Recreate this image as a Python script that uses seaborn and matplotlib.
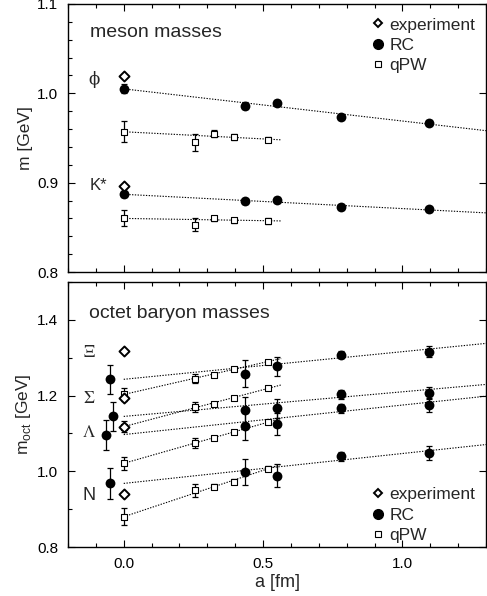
import numpy as np
import pandas as pd
import matplotlib
matplotlib.use("Agg")
import matplotlib.pyplot as plt
import seaborn as sns
from matplotlib.lines import Line2D
from matplotlib.ticker import MultipleLocator

sns.set_theme(style="ticks")
plt.rcParams['font.family'] = ['Liberation Sans', 'DejaVu Sans']
plt.rcParams['mathtext.fontset'] = 'custom'
plt.rcParams['mathtext.rm'] = 'Liberation Sans'

# lattice spacings (fm)
A_RC = [0.0, 0.436, 0.55, 0.78, 1.096]
A_QPW = [0.0, 0.255, 0.325, 0.396, 0.518]
A_FIT_RC_END = 1.3
A_FIT_QPW_END = 0.565

# ---- mesons ----
MESON_LABELS = ['\u03d5', 'K*']
MESON_EXP = [1.019, 0.896]
PHI_RC = [1.005, 0.986, 0.989, 0.974, 0.967]
PHI_RC_ERR = [0.005, 0.004, 0.003, 0.003, 0.003]
KST_RC = [0.887, 0.879, 0.881, 0.873, 0.870]
KST_RC_ERR = [0.003, 0.003, 0.003, 0.003, 0.003]
PHI_QPW = [0.957, 0.945, 0.955, 0.951, 0.948]
PHI_QPW_ERR = [0.012, 0.010, 0.004, 0.003, 0.003]
KST_QPW = [0.860, 0.853, 0.860, 0.858, 0.857]
KST_QPW_ERR = [0.009, 0.007, 0.003, 0.003, 0.003]
MESON_RC_FIT = [(1.005, -0.036), (0.887, -0.016)]      # (intercept, slope)
MESON_QPW_FIT = [(0.957, -0.016), (0.860, -0.005)]

# ---- octet baryons ----
BARYON_LABELS = [r'$\Xi$', r'$\Sigma$', r'$\Lambda$', 'N']
BARYON_EXP = [1.318, 1.193, 1.116, 0.939]
A_RC0_BARYON = [-0.051, -0.039, -0.062, -0.051]   # continuum points shifted for clarity
XI_RC = [1.243, 1.258, 1.277, 1.308, 1.316]
XI_RC_ERR = [0.038, 0.035, 0.025, 0.010, 0.015]
SIG_RC = [1.145, 1.162, 1.166, 1.204, 1.207]
SIG_RC_ERR = [0.038, 0.035, 0.025, 0.012, 0.015]
LAM_RC = [1.095, 1.119, 1.125, 1.166, 1.175]
LAM_RC_ERR = [0.040, 0.035, 0.030, 0.012, 0.018]
N_RC = [0.968, 0.998, 0.988, 1.040, 1.049]
N_RC_ERR = [0.042, 0.035, 0.030, 0.012, 0.018]
XI_QPW = [1.203, 1.245, 1.255, 1.269, 1.290]
XI_QPW_ERR = [0.016, 0.012, 0.005, 0.005, 0.005]
SIG_QPW = [1.118, 1.169, 1.179, 1.194, 1.219]
SIG_QPW_ERR = [0.015, 0.013, 0.005, 0.005, 0.004]
LAM_QPW = [1.021, 1.075, 1.088, 1.104, 1.130]
LAM_QPW_ERR = [0.018, 0.013, 0.006, 0.005, 0.005]
N_QPW = [0.880, 0.950, 0.959, 0.973, 1.007]
N_QPW_ERR = [0.022, 0.017, 0.007, 0.006, 0.006]
BARYON_RC_FIT = [(1.243, 0.073), (1.145, 0.065), (1.097, 0.078), (0.968, 0.079)]
BARYON_QPW_FIT = [(1.203, 0.168), (1.118, 0.195), (1.021, 0.210), (0.880, 0.245)]

DOT = (0, (1.2, 1.3))


def fit_line(ax, fit, a_end):
    b, k = fit
    a = np.array([0.0, a_end])
    ax.plot(a, b + k * a, color='black', lw=0.8, ls=DOT, zorder=1)


def points(ax, x, y, err, kind):
    ax.errorbar(x, y, yerr=err, fmt='none', ecolor='black', elinewidth=0.9,
                capsize=2.3, capthick=0.9, zorder=3)
    df = pd.DataFrame({'a': x, 'm': y})
    if kind == 'RC':
        sns.scatterplot(data=df, x='a', y='m', ax=ax, marker='o', s=50,
                        color='black', edgecolor='black', linewidth=0, zorder=4, legend=False)
    else:
        sns.scatterplot(data=df, x='a', y='m', ax=ax, marker='s', s=24,
                        facecolor='white', edgecolor='black', linewidth=0.8, zorder=4, legend=False)


def experiment(ax, x, y):
    df = pd.DataFrame({'a': x, 'm': y})
    sns.scatterplot(data=df, x='a', y='m', ax=ax, marker='D', s=26,
                    facecolor='white', edgecolor='black', linewidth=1.4, zorder=5, legend=False)


def style_axis(ax, ymaj, ymin):
    ax.set_xlim(-0.2, 1.3)
    ax.xaxis.set_major_locator(MultipleLocator(0.5))
    ax.xaxis.set_minor_locator(MultipleLocator(0.1))
    ax.yaxis.set_major_locator(MultipleLocator(ymaj))
    ax.yaxis.set_minor_locator(MultipleLocator(ymin))
    ax.tick_params(which='both', direction='in', top=True, right=True, width=0.8,
                   labelsize=11, colors='black', pad=7)
    ax.tick_params(which='minor', right=False, length=3)
    ax.tick_params(which='major', length=5)
    for s in ax.spines.values():
        s.set_color('black')
        s.set_linewidth(1.0)


def add_legend(ax, loc, anchor):
    h = [Line2D([], [], ls='none', marker='D', ms=4.3, mfc='white', mec='black', mew=1.4),
         Line2D([], [], ls='none', marker='o', ms=7, mfc='black', mec='black'),
         Line2D([], [], ls='none', marker='s', ms=5, mfc='white', mec='black', mew=0.8)]
    ax.legend(h, ['experiment', 'RC', 'qPW'], loc=loc, bbox_to_anchor=anchor,
              frameon=False, fontsize=12.5, handlelength=0.8, handletextpad=0.3,
              labelspacing=0.3, borderpad=0, borderaxespad=0)


fig = plt.figure(figsize=(4.87, 5.96), dpi=100)
ax1 = fig.add_axes([0.1396, 0.5436, 0.8584, 0.4497])
ax2 = fig.add_axes([0.1396, 0.0822, 0.8584, 0.4446])

# ---------- top: mesons ----------
for fit in MESON_RC_FIT:
    fit_line(ax1, fit, A_FIT_RC_END)
for fit in MESON_QPW_FIT:
    fit_line(ax1, fit, A_FIT_QPW_END)
points(ax1, A_RC, PHI_RC, PHI_RC_ERR, 'RC')
points(ax1, A_RC, KST_RC, KST_RC_ERR, 'RC')
points(ax1, A_QPW, PHI_QPW, PHI_QPW_ERR, 'qPW')
points(ax1, A_QPW, KST_QPW, KST_QPW_ERR, 'qPW')
experiment(ax1, [0.0, 0.0], MESON_EXP)

ax1.text(-0.107, 1.016, MESON_LABELS[0], fontsize=12, family=['DejaVu Serif'],
         ha='center', va='center')
ax1.text(-0.09, 0.897, MESON_LABELS[1], fontsize=12, ha='center', va='center')
ax1.text(-0.122, 1.068, 'meson masses', fontsize=14, ha='left', va='center')

style_axis(ax1, 0.1, 0.02)
ax1.set_ylim(0.8, 1.1)
ax1.set_xticklabels([])
ax1.set_xlabel('')
ax1.set_ylabel('m [GeV]', fontsize=12.5, labelpad=3)
add_legend(ax1, 'upper right', (0.975, 0.95))

# ---------- bottom: octet baryons ----------
for fit in BARYON_RC_FIT:
    fit_line(ax2, fit, A_FIT_RC_END)
for fit in BARYON_QPW_FIT:
    fit_line(ax2, fit, A_FIT_QPW_END)

rc_sets = [(XI_RC, XI_RC_ERR), (SIG_RC, SIG_RC_ERR), (LAM_RC, LAM_RC_ERR), (N_RC, N_RC_ERR)]
qpw_sets = [(XI_QPW, XI_QPW_ERR), (SIG_QPW, SIG_QPW_ERR), (LAM_QPW, LAM_QPW_ERR), (N_QPW, N_QPW_ERR)]
for a0, (m, e) in zip(A_RC0_BARYON, rc_sets):
    points(ax2, [a0] + A_RC[1:], m, e, 'RC')
for m, e in qpw_sets:
    points(ax2, A_QPW, m, e, 'qPW')
experiment(ax2, [0.0] * 4, BARYON_EXP)

label_y = [1.316, 1.193, 1.105, 0.935]
for lab, y in zip(BARYON_LABELS, label_y):
    ax2.text(-0.125, y, lab, fontsize=13 if lab == 'N' else 12.5, math_fontfamily='stix',
             ha='center', va='center')
ax2.text(-0.125, 1.416, 'octet baryon masses', fontsize=14, ha='left', va='center')

style_axis(ax2, 0.2, 0.1)
ax2.set_ylim(0.8, 1.5)
ax2.set_yticks([0.8, 1.0, 1.2, 1.4])
ax2.set_xticks([0.0, 0.5, 1.0])
ax2.set_xticklabels(['0.0', '0.5', '1.0'])
ax2.set_xlabel('a [fm]', fontsize=13, labelpad=2)
ax2.set_ylabel(r'm$_{\rm oct}$ [GeV]', fontsize=12.5, labelpad=3)
add_legend(ax2, 'lower right', (0.975, 0.015))

fig.savefig('out.png', dpi=100)
